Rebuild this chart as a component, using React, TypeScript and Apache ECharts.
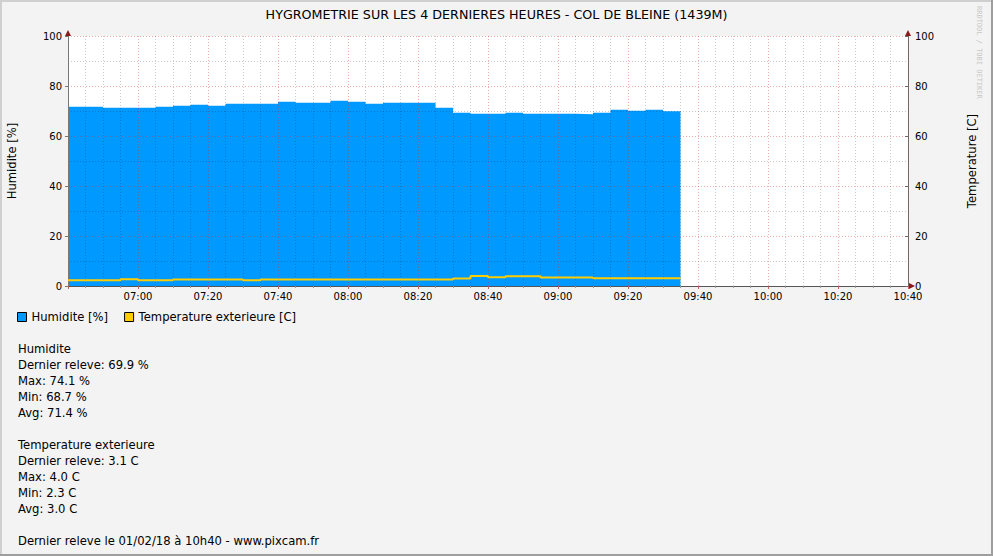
import React, { useEffect, useRef } from "react";
import * as echarts from "echarts";

const title = "HYGROMETRIE SUR LES 4 DERNIERES HEURES - COL DE BLEINE (1439M)";

// start time of each 5-minute interval
const times = [
  "06:40", "06:45", "06:50", "06:55", "07:00", "07:05", "07:10", "07:15", "07:20", "07:25",
  "07:30", "07:35", "07:40", "07:45", "07:50", "07:55", "08:00", "08:05", "08:10", "08:15",
  "08:20", "08:25", "08:30", "08:35", "08:40", "08:45", "08:50", "08:55", "09:00", "09:05",
  "09:10", "09:15", "09:20", "09:25", "09:30",
];

const humidity = [
  71.7, 71.7, 71.3, 71.3, 71.3, 71.7, 72.1, 72.5, 72.1, 72.9,
  72.9, 72.9, 73.7, 73.3, 73.3, 74.1, 73.7, 72.9, 73.3, 73.3,
  73.3, 71.3, 69.3, 68.9, 68.9, 69.3, 68.9, 68.9, 68.9, 68.7,
  69.3, 70.5, 70.1, 70.5, 69.9,
];

const temperature = [
  2.3, 2.3, 2.3, 2.7, 2.3, 2.3, 2.6, 2.6, 2.6, 2.6,
  2.3, 2.6, 2.6, 2.6, 2.6, 2.6, 2.6, 2.6, 2.6, 2.6,
  2.6, 2.6, 3.0, 4.0, 3.5, 3.9, 3.9, 3.4, 3.4, 3.4,
  3.1, 3.1, 3.1, 3.1, 3.1,
];

const axisStart = "06:40";
const axisEnd = "10:40";
const yTicks = [0, 20, 40, 60, 80, 100];

const humidityStats = ["Humidite", "Dernier releve: 69.9 %", "Max: 74.1 %", "Min: 68.7 %", "Avg: 71.4 %"];
const temperatureStats = ["Temperature exterieure", "Dernier releve: 3.1 C", "Max: 4.0 C", "Min: 2.3 C", "Avg: 3.0 C"];
const footer = "Dernier releve le 01/02/18 à 10h40 - www.pixcam.fr";

const FONT = "DejaVu Sans";
const TXT = 11.6;

const toMin = (s: string) => {
  const [h, m] = s.split(":").map(Number);
  return h * 60 + m;
};
const pad = (n: number) => (n < 10 ? "0" + n : "" + n);
const fmt = (v: number) => pad(Math.floor(v / 60)) + ":" + pad(v % 60);

export default function App() {
  const ref = useRef<HTMLDivElement>(null);

  useEffect(() => {
    if (!ref.current) return;
    const chart = echarts.init(ref.current, null, { renderer: "svg" });

    const step = toMin(times[1]) - toMin(times[0]);
    const lastT = toMin(times[times.length - 1]) + step;
    const humData = times.map((t, i) => [toMin(t), humidity[i]]);
    humData.push([lastT, humidity[humidity.length - 1]]);
    const tempData = times.map((t, i) => [toMin(t), temperature[i]]);
    tempData.push([lastT, temperature[temperature.length - 1]]);

    const lines = [...humidityStats, "", ...temperatureStats, "", footer];

    const minorGrid = "rgba(0,0,0,0.2)";
    const majorGrid = "rgba(210,40,40,0.38)";

    chart.setOption({
      animation: false,
      backgroundColor: "#F3F3F3",
      textStyle: { fontFamily: FONT },
      title: {
        text: title,
        left: "center",
        top: 8,
        padding: 0,
        textStyle: { fontFamily: FONT, fontSize: 12.7, fontWeight: "normal", color: "#000" },
      },
      legend: {
        left: 17,
        top: 311,
        padding: 0,
        icon: "rect",
        itemWidth: 9,
        itemHeight: 9,
        itemGap: 16,
        textStyle: { fontFamily: FONT, fontSize: TXT, color: "#000" },
        itemStyle: { borderColor: "#000", borderWidth: 1 },
        data: ["Humidite [%]", "Temperature exterieure [C]"],
      },
      grid: {
        left: 68,
        top: 36,
        width: 840,
        height: 250,
        backgroundColor: "#fff",
        show: true,
        borderWidth: 0,
        containLabel: false,
        outerBoundsMode: "none",
      },
      xAxis: {
        type: "value",
        min: toMin(axisStart),
        max: toMin(axisEnd),
        interval: 20,
        z: 3,
        axisLine: { show: true, lineStyle: { color: "#555", width: 1 } },
        axisTick: { show: true, length: 3, lineStyle: { color: "#C06060" } },
        minorTick: { show: true, splitNumber: 4, length: 2, lineStyle: { color: "#999" } },
        splitLine: { show: true, lineStyle: { color: majorGrid, type: [1, 2], width: 1 } },
        minorSplitLine: { show: true, lineStyle: { color: minorGrid, type: [1, 2], width: 1 } },
        axisLabel: {
          fontFamily: FONT,
          fontSize: 10,
          color: "#000",
          margin: 5,
          formatter: (v: number) => (v === toMin(axisStart) ? "" : fmt(v)),
        },
      },
      yAxis: [
        {
          type: "value",
          min: yTicks[0],
          max: yTicks[yTicks.length - 1],
          interval: yTicks[1] - yTicks[0],
          z: 3,
          name: "Humidite [%]",
          nameLocation: "middle",
          nameGap: 50,
          nameTextStyle: { fontFamily: FONT, fontSize: TXT, color: "#000" },
          axisLine: { show: true, lineStyle: { color: "#777", width: 1 } },
          axisTick: { show: true, length: 3, lineStyle: { color: "#777" } },
          splitLine: { show: true, lineStyle: { color: majorGrid, type: [1, 2], width: 1 } },
          minorTick: { show: false, splitNumber: 2 },
          minorSplitLine: { show: true, lineStyle: { color: minorGrid, type: [1, 2], width: 1 } },
          axisLabel: { fontFamily: FONT, fontSize: 10, color: "#000", margin: 6 },
        },
        {
          type: "value",
          position: "right",
          min: yTicks[0],
          max: yTicks[yTicks.length - 1],
          interval: yTicks[1] - yTicks[0],
          z: 3,
          name: "Temperature [C]",
          nameLocation: "middle",
          nameGap: 58,
          nameRotate: 90,
          nameTextStyle: { fontFamily: FONT, fontSize: TXT, color: "#000" },
          axisLine: { show: true, lineStyle: { color: "#776666", width: 1 } },
          axisTick: { show: true, length: 3, inside: true, lineStyle: { color: "#776666" } },
          splitLine: { show: false },
          axisLabel: { fontFamily: FONT, fontSize: 10, color: "#000", margin: 7 },
        },
      ],
      series: [
        {
          name: "Humidite [%]",
          type: "line",
          step: "end",
          data: humData,
          symbol: "none",
          z: 2,
          color: "#0099FF",
          lineStyle: { width: 0 },
          areaStyle: { color: "#0099FF", opacity: 1 },
        },
        {
          name: "Temperature exterieure [C]",
          type: "line",
          step: "end",
          yAxisIndex: 1,
          data: tempData,
          symbol: "none",
          z: 5,
          color: "#FFCC00",
          lineStyle: { width: 2, color: "#FFCC00" },
        },
      ],
      graphic: [
        { type: "rect", shape: { x: 0, y: 0, width: 993, height: 2 }, style: { fill: "#CFCFCF" }, z: 10 },
        { type: "rect", shape: { x: 0, y: 0, width: 2, height: 556 }, style: { fill: "#CFCFCF" }, z: 10 },
        { type: "rect", shape: { x: 991, y: 0, width: 2, height: 556 }, style: { fill: "#9E9E9E" }, z: 10 },
        { type: "rect", shape: { x: 0, y: 554, width: 993, height: 2 }, style: { fill: "#9E9E9E" }, z: 10 },
        { type: "polygon", shape: { points: [[65, 36], [71, 36], [68, 30]] }, style: { fill: "#8B1A1A" }, z: 10 },
        { type: "polygon", shape: { points: [[905, 36], [911, 36], [908, 30]] }, style: { fill: "#8B1A1A" }, z: 10 },
        { type: "polygon", shape: { points: [[909, 283], [909, 289], [915, 286]] }, style: { fill: "#8B1A1A" }, z: 10 },
        {
          type: "text",
          x: 982,
          y: 6,
          rotation: -Math.PI / 2,
          style: {
            text: "RRDTOOL / TOBI OETIKER",
            fill: "#C8C8C8",
            font: "7px 'DejaVu Sans Mono'",
            textAlign: "left",
            textVerticalAlign: "top",
          },
        },
        ...lines.map((t, i) => ({
          type: "text",
          left: 18,
          top: 343 + 16 * i,
          style: { text: t, fill: "#000", font: TXT + "px '" + FONT + "'" },
        })),
      ],
    });

    return () => chart.dispose();
  }, []);

  return (
    <div style={{ position: "fixed", left: 0, top: 0, width: 993, height: 556 }}>
      <div ref={ref} style={{ width: 993, height: 556 }} />
    </div>
  );
}
